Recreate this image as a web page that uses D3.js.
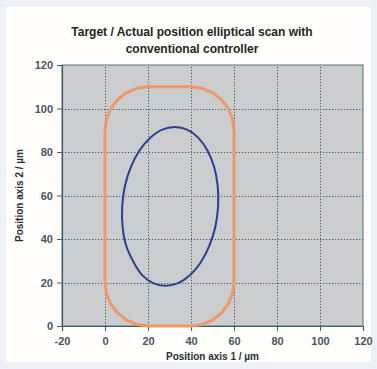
<!DOCTYPE html>
<html><head><meta charset="utf-8">
<script src="https://cdn.jsdelivr.net/npm/d3@7"></script>
<style>
html,body{margin:0;padding:0;background:#eef0f8;}
svg{display:block;}
</style></head><body>
<svg id="c" width="377" height="369"></svg>
<script>
const titleLines = ["Target / Actual position elliptical scan with", "conventional controller"];
const xLabel = "Position axis 1 / µm";
const yLabel = "Position axis 2 / µm";
const xTicks = [-20, 0, 20, 40, 60, 80, 100, 120];
const yTicks = [0, 20, 40, 60, 80, 100, 120];

// Target path (orange) – x, y in µm
const targetX = [0, 0.7, 2.7, 5.9, 10, 14.8, 20, 40, 45.2, 50, 54.1, 57.3, 59.3, 60, 60, 59.3, 57.3, 54.1, 50, 45.2, 40, 20, 14.8, 10, 5.9, 2.7, 0.7, 0];
const targetY = [90, 95.2, 100, 104.1, 107.3, 109.3, 110, 110, 109.3, 107.3, 104.1, 100, 95.2, 90, 20, 14.8, 10, 5.9, 2.7, 0.7, 0, 0, 0.7, 2.7, 5.9, 10, 14.8, 20];

// Actual path (blue) – x, y in µm
const actualX = [52.6, 52.4, 50.7, 47.6, 43.3, 38.2, 32.5, 26.6, 21.1, 16.1, 12.1, 9.3, 8.0, 8.2, 9.9, 13.4, 17.3, 22.4, 28.1, 34.0, 39.6, 44.5, 48.5, 51.3];
const actualY = [55, 64.5, 73.3, 80.8, 86.6, 90.3, 91.5, 90.3, 86.6, 80.8, 73.3, 64.5, 55, 45.5, 36.8, 29.2, 23.4, 19.7, 18.5, 19.7, 23.4, 29.2, 36.8, 45.5];

const svg = d3.select("#c");
const W = 377, H = 369;
const font = "'Liberation Sans', Arial, sans-serif";

svg.append("rect").attr("x", 6).attr("y", 7).attr("width", 365).attr("height", 355).attr("fill", "#fffefb");

const m = {left: 62, right: 14, top: 65, bottom: 43};
const x = d3.scaleLinear().domain([-20, 120]).range([m.left, W - m.right]);
const y = d3.scaleLinear().domain([0, 120]).range([H - m.bottom, m.top]);

// plot area
svg.append("rect").attr("x", x(-20)).attr("y", y(120)).attr("width", x(120) - x(-20)).attr("height", y(0) - y(120))
  .attr("fill", "#cbcccd").attr("stroke", "#55707c").attr("stroke-width", 1);

// grid
const grid = svg.append("g").attr("stroke", "#3d5a6c").attr("stroke-width", 1).attr("stroke-dasharray", "1.2,1.8");
grid.selectAll(".gx").data(xTicks.filter(d => d > -20 && d < 120)).join("line")
  .attr("x1", d => Math.round(x(d)) + 0.5).attr("x2", d => Math.round(x(d)) + 0.5)
  .attr("y1", y(0)).attr("y2", y(120));
grid.selectAll(".gy").data(yTicks.filter(d => d > 0 && d < 120)).join("line")
  .attr("y1", d => Math.round(y(d)) + 0.5).attr("y2", d => Math.round(y(d)) + 0.5)
  .attr("x1", x(-20)).attr("x2", x(120));

// axes
const fmt = d => String(d);
const xAxis = svg.append("g").attr("transform", `translate(0,${y(0)})`)
  .call(d3.axisBottom(x).tickValues(xTicks).tickSize(5).tickPadding(6).tickFormat(fmt));
const yAxis = svg.append("g").attr("transform", `translate(${x(-20)},0)`)
  .call(d3.axisLeft(y).tickValues(yTicks).tickSize(5).tickPadding(4).tickFormat(fmt));
[xAxis, yAxis].forEach(a => {
  a.select(".domain").attr("stroke", "#3f5f6c").attr("stroke-width", 1.2);
  a.selectAll(".tick line").attr("stroke", "#3f5f6c");
  a.selectAll("text").attr("font-family", font).attr("font-size", 11).attr("font-weight", "bold").attr("fill", "#4a5560");
});

// lines
const line = d3.line().x(d => x(d[0])).y(d => y(d[1])).curve(d3.curveLinearClosed);
const smooth = d3.line().x(d => x(d[0])).y(d => y(d[1])).curve(d3.curveCatmullRomClosed.alpha(0.5));
svg.append("path").datum(targetX.map((v, i) => [v, targetY[i]])).attr("d", line)
  .attr("fill", "none").attr("stroke", "#ef9866").attr("stroke-width", 3).attr("stroke-linejoin", "round");
svg.append("path").datum(actualX.map((v, i) => [v, actualY[i]])).attr("d", smooth)
  .attr("fill", "none").attr("stroke", "#2b3f8e").attr("stroke-width", 2);

// title
svg.append("g").selectAll("text").data(titleLines).join("text")
  .attr("x", 192).attr("y", (d, i) => 36 + i * 17).attr("text-anchor", "middle")
  .attr("font-family", font).attr("font-size", 12).attr("font-weight", "bold").attr("fill", "#242424").text(d => d);

// axis labels
svg.append("text").attr("x", (x(-20) + x(120)) / 2).attr("y", 360).attr("text-anchor", "middle")
  .attr("font-family", font).attr("font-size", 10).attr("font-weight", "bold").attr("fill", "#2a2f3a").text(xLabel);
svg.append("text").attr("transform", `translate(23,${(y(0) + y(120)) / 2}) rotate(-90)`).attr("text-anchor", "middle")
  .attr("font-family", font).attr("font-size", 10).attr("font-weight", "bold").attr("fill", "#2a2f3a").text(yLabel);
</script>
</body></html>
